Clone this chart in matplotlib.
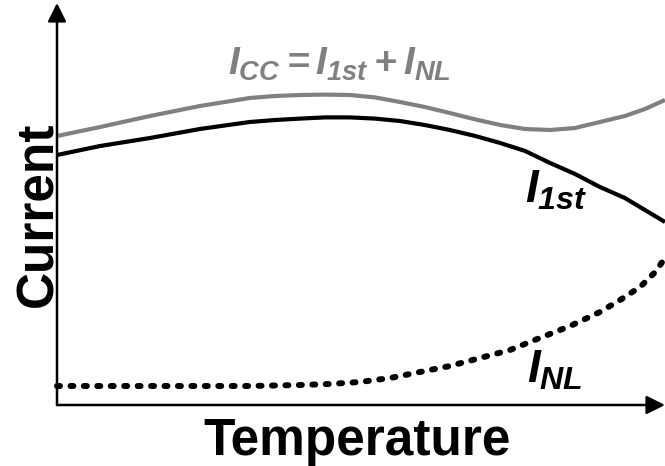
import matplotlib
matplotlib.use("Agg")
import matplotlib.pyplot as plt

plt.rcParams["font.family"] = ["Liberation Sans", "DejaVu Sans"]
plt.rcParams["mathtext.fontset"] = "custom"
plt.rcParams["mathtext.it"] = "Liberation Sans:italic:bold"
plt.rcParams["mathtext.rm"] = "Liberation Sans:italic:bold"
plt.rcParams["mathtext.bf"] = "Liberation Sans:italic:bold"

# Temperature axis (arbitrary units, 0..100) and current curves (arbitrary units)
temp_cc = [0, 7.1, 15.3, 23.5, 31.7, 35.9, 40.0, 44.1, 48.2, 52.3, 56.4, 60.5, 64.6,
           68.8, 72.9, 77.0, 81.1, 85.2, 89.3, 93.4, 96.7, 100]
i_cc = [67.25, 69.5, 72.25, 74.75, 76.75, 77.25, 77.5, 77.6, 77.5, 76.9, 75.75, 74.5,
        73.0, 71.4, 70.0, 69.0, 68.75, 69.25, 70.75, 72.25, 74.0, 76.25]

temp_1st = [0, 7.1, 15.3, 23.5, 31.7, 35.9, 40.0, 44.1, 48.2, 52.3, 56.4, 60.5, 64.6,
            68.8, 72.9, 77.0, 81.1, 85.2, 89.3, 93.4, 96.7, 100]
i_1st = [62.5, 64.75, 66.75, 69.0, 70.75, 71.25, 71.6, 71.9, 71.9, 71.6, 71.0, 70.0,
         68.75, 67.25, 65.5, 63.5, 60.5, 57.75, 54.5, 51.75, 48.75, 45.75]

temp_nl = [0, 15.3, 31.7, 40.0, 44.9, 49.8, 54.8, 59.7, 64.6, 69.6, 74.5, 79.4, 84.4,
           89.3, 92.6, 95.9, 98.4, 100]
i_nl = [4.75, 4.75, 4.75, 5.0, 5.25, 5.75, 6.75, 8.25, 9.75, 11.75, 13.75, 16.75, 19.75,
        23.25, 26.25, 29.5, 33.25, 36.75]

GRAY = "#808080"

fig = plt.figure(figsize=(6.65, 4.66), dpi=100)
ax = fig.add_axes([57 / 665, 61 / 466, 608 / 665, 400 / 466])
ax.set_xlim(0, 100)
ax.set_ylim(0, 100)
ax.axis("off")

ax.plot(temp_cc, i_cc, color=GRAY, lw=3.0, solid_capstyle="butt",
        solid_joinstyle="round", clip_on=False)
ax.plot(temp_1st, i_1st, color="black", lw=3.0, solid_capstyle="butt",
        solid_joinstyle="round", clip_on=False)
nl, = ax.plot(temp_nl, i_nl, color="black", lw=4.3, clip_on=False,
              dash_capstyle="round")
nl.set_dashes([0.5, 1.75])

# axes drawn as arrows
arrow = dict(arrowstyle="-|>", lw=1.8, color="black", mutation_scale=28,
             shrinkA=0, shrinkB=0)
ax.annotate("", xy=(0, 100.5), xytext=(0, 0), arrowprops=arrow, annotation_clip=False)
ax.annotate("", xy=(100, 0), xytext=(0, 0), arrowprops=arrow, annotation_clip=False)

ax.text(28.1, 82.5, r"$I_{CC}=I_{1st}+I_{NL}$", color=GRAY, fontsize=28,
        ha="left", va="baseline")
ax.text(77.0, 50.5, r"$I_{1st}$", color="black", fontsize=33, ha="left", va="baseline")
ax.text(77.3, 5.75, r"$I_{NL}$", color="black", fontsize=33, ha="left", va="baseline")

fig.text(357.5 / 665, 11 / 466, "Temperature", fontsize=37, fontweight="bold",
         ha="center", va="baseline")
fig.text(52 / 665, 252 / 466, "Current", fontsize=37, fontweight="bold",
         rotation=90, rotation_mode="anchor", ha="center", va="baseline")

fig.savefig("out.png", dpi=100)
